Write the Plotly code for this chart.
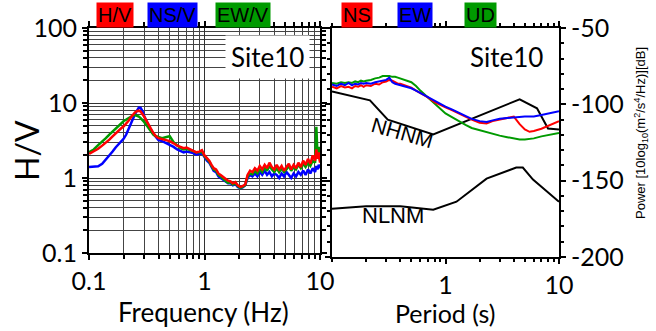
import plotly.graph_objects as go

# ---------------- H/V spectral ratios (left panel) ----------------
freq = [0.10, 0.11, 0.12, 0.13, 0.14, 0.15, 0.16, 0.17, 0.18, 0.19,
        0.20, 0.21, 0.22, 0.23, 0.24, 0.25, 0.26, 0.27, 0.28, 0.29,
        0.30, 0.32, 0.34, 0.36, 0.38, 0.40, 0.43, 0.46, 0.50, 0.54,
        0.58, 0.62, 0.66, 0.70, 0.75, 0.80, 0.85, 0.90, 0.95, 1.00,
        1.05, 1.10, 1.15, 1.20, 1.26, 1.32, 1.38, 1.45, 1.52, 1.60,
        1.68, 1.76, 1.85, 1.94, 2.04, 2.14, 2.25, 2.36, 2.48, 2.60,
        2.73, 2.87, 3.01, 3.16, 3.32, 3.48, 3.65, 3.83, 4.02, 4.22,
        4.43, 4.65, 4.88, 5.12, 5.37, 5.63, 5.91, 6.20, 6.50, 6.82,
        7.15, 7.50, 7.87, 8.25, 8.65, 9.07, 9.30, 9.51, 9.75, 10.0]

hv = [2.1, 2.25, 2.45, 2.7, 2.95, 3.25, 3.6, 3.95, 4.3, 4.6,
      4.9, 5.3, 5.8, 6.4, 7.0, 7.5, 7.8, 7.9, 7.7, 7.2,
      6.6, 5.5, 4.6, 4.0, 3.6, 3.4, 3.3, 3.2, 3.1, 2.9,
      2.7, 2.6, 2.5, 2.55, 2.4, 2.3, 2.2, 2.25, 2.35, 2.0,
      1.85, 1.7, 1.5, 1.35, 1.3, 1.15, 1.1, 1.02, 0.98, 0.92,
      0.9, 0.85, 0.88, 0.8, 0.76, 0.78, 0.82, 1.1, 1.25, 1.2,
      1.35, 1.25, 1.45, 1.3, 1.5, 1.35, 1.6, 1.4, 1.3, 1.5,
      1.3, 1.45, 1.25, 1.4, 1.55, 1.3, 1.5, 1.35, 1.6, 1.4,
      1.7, 1.5, 1.8, 1.55, 2.0, 1.7, 2.4, 1.8, 2.2, 1.6]

ns_v = [1.4, 1.4, 1.43, 1.55, 1.75, 2.0, 2.25, 2.55, 2.8, 3.05,
        3.35, 3.8, 4.4, 5.2, 6.1, 7.1, 8.0, 8.7, 8.6, 7.8,
        6.7, 5.3, 4.5, 3.9, 3.5, 3.2, 3.1, 2.95, 2.8, 2.6,
        2.4, 2.3, 2.2, 2.25, 2.2, 2.15, 2.05, 2.1, 2.15, 1.9,
        1.7, 1.6, 1.4, 1.25, 1.2, 1.05, 1.0, 0.95, 0.9, 0.85,
        0.86, 0.8, 0.83, 0.76, 0.73, 0.75, 0.8, 1.0, 1.1, 1.05,
        1.15, 1.05, 1.2, 1.1, 1.25, 1.1, 1.2, 1.05, 1.15, 1.1,
        1.0, 1.15, 1.05, 1.2, 1.1, 1.0, 1.15, 1.05, 1.2, 1.1,
        1.25, 1.1, 1.3, 1.15, 1.35, 1.2, 1.45, 1.3, 1.5, 1.35]

ew_v = [2.2, 2.4, 2.75, 3.05, 3.4, 3.8, 4.2, 4.6, 5.0, 5.4,
        5.75, 6.0, 6.3, 6.6, 6.8, 6.9, 6.8, 6.6, 6.3, 6.0,
        5.6, 4.9, 4.3, 3.8, 3.6, 3.5, 3.4, 3.5, 3.6, 3.0,
        2.7, 2.5, 2.4, 2.45, 2.35, 2.25, 2.2, 2.2, 2.25, 1.95,
        1.8, 1.65, 1.45, 1.3, 1.25, 1.1, 1.05, 0.97, 0.92, 0.86,
        0.88, 0.82, 0.85, 0.78, 0.74, 0.76, 0.8, 1.05, 1.15, 1.12,
        1.25, 1.15, 1.3, 1.2, 1.4, 1.25, 1.45, 1.3, 1.2, 1.35,
        1.2, 1.35, 1.2, 1.3, 1.45, 1.25, 1.4, 1.3, 1.5, 1.35,
        1.55, 1.4, 1.6, 1.45, 1.7, 1.6, 4.8, 2.0, 2.6, 1.7]

# ---------------- Power spectra (right panel) ----------------
period = [0.10, 0.11, 0.12, 0.13, 0.14, 0.15, 0.16, 0.17, 0.18, 0.19,
          0.20, 0.22, 0.24, 0.26, 0.28, 0.30, 0.32, 0.34, 0.36, 0.38,
          0.40, 0.45, 0.50, 0.55, 0.60, 0.70, 0.80, 0.90, 1.00, 1.15,
          1.30, 1.50, 1.70, 2.00, 2.30, 2.60, 3.00, 3.50, 4.00, 4.50,
          5.00, 5.50, 6.00, 7.00, 8.00, 9.00, 10.0]

psd_ns = [-88.5, -89.5, -88.0, -89.0, -88.5, -89.5, -88.0, -88.5, -87.5, -88.5,
          -87.5, -88.0, -86.5, -87.0, -85.5, -85.0, -84.0, -84.5, -85.5, -86.5,
          -86.5, -88.0, -89.0, -91.0, -92.5, -95.5, -98.5, -100.5, -102.0, -104.0,
          -106.0, -108.0, -110.0, -112.0, -112.5, -111.0, -110.0, -108.5, -108.0, -113.0,
          -116.5, -118.0, -117.5, -116.0, -114.0, -112.5, -111.0]

psd_ew = [-87.0, -88.0, -86.5, -87.5, -86.0, -87.5, -86.5, -87.0, -86.0, -86.5,
          -86.0, -86.5, -85.5, -85.0, -84.5, -84.0, -82.5, -85.5, -86.5, -87.0,
          -87.5, -88.5, -89.5, -91.0, -92.5, -95.5, -98.0, -100.0, -101.5, -103.5,
          -105.5, -107.5, -109.5, -111.0, -111.5, -110.5, -109.5, -109.0, -108.5, -108.5,
          -108.0, -108.0, -108.0, -107.0, -106.0, -105.5, -104.5]

psd_ud = [-86.0, -86.5, -85.5, -86.0, -85.5, -86.0, -85.0, -85.5, -84.5, -85.0,
          -84.5, -84.0, -83.0, -82.5, -81.5, -81.5, -81.5, -82.0, -82.0, -82.5,
          -83.0, -84.0, -85.5, -88.0, -91.0, -95.5, -99.5, -103.0, -106.0, -108.5,
          -111.0, -113.5, -115.5, -117.0, -118.3, -119.5, -120.5, -121.5, -122.5, -123.0,
          -123.0, -122.8, -122.3, -121.0, -120.0, -119.5, -118.8]

nhnm_period = [0.1, 0.216, 0.31, 0.78, 4.5, 6.4, 8.0, 10.0]
nhnm_db = [-91.5, -97.4, -110.0, -119.7, -96.7, -102.6, -115.8, -116.5]
nlnm_period = [0.1, 0.2, 0.4, 0.78, 1.25, 2.3, 4.2, 4.8, 5.9, 10.0]
nlnm_db = [-168.4, -166.8, -166.8, -169.0, -163.8, -148.7, -141.4, -141.4, -149.3, -163.8]

hv_ticks = [0.1, 1, 10, 100]
hv_ticktext = ["0.1", "1", "10", "100"]
f_ticks = [0.1, 1, 10]
f_ticktext = ["0.1", "1", "10"]
p_ticks = [1, 10]
p_ticktext = ["1", "10"]
db_ticks = [-50, -100, -150, -200]
db_ticktext = ["-50", "-100", "-150", "-200"]

RED, BLUE, GREEN = "#ff0000", "#0000ff", "#009a00"

W, H = 656, 331
fig = go.Figure()

fig.add_trace(go.Scatter(x=freq, y=ns_v, mode="lines", line=dict(color=BLUE, width=2.5),
                         xaxis="x", yaxis="y", showlegend=False))
fig.add_trace(go.Scatter(x=freq, y=ew_v, mode="lines", line=dict(color=GREEN, width=2.5),
                         xaxis="x", yaxis="y", showlegend=False))
fig.add_trace(go.Scatter(x=freq, y=hv, mode="lines", line=dict(color=RED, width=2.5),
                         xaxis="x", yaxis="y", showlegend=False))

fig.add_trace(go.Scatter(x=nhnm_period, y=nhnm_db, mode="lines", line=dict(color="black", width=2),
                         xaxis="x2", yaxis="y2", showlegend=False))
fig.add_trace(go.Scatter(x=nlnm_period, y=nlnm_db, mode="lines", line=dict(color="black", width=2),
                         xaxis="x2", yaxis="y2", showlegend=False))
fig.add_trace(go.Scatter(x=period, y=psd_ud, mode="lines", line=dict(color=GREEN, width=2),
                         xaxis="x2", yaxis="y2", showlegend=False))
fig.add_trace(go.Scatter(x=period, y=psd_ns, mode="lines", line=dict(color=RED, width=2),
                         xaxis="x2", yaxis="y2", showlegend=False))
fig.add_trace(go.Scatter(x=period, y=psd_ew, mode="lines", line=dict(color=BLUE, width=2),
                         xaxis="x2", yaxis="y2", showlegend=False))

TICKFONT = dict(family="Lato", size=25, color="black")
axis_common = dict(showline=True, linecolor="black", linewidth=2, mirror="ticks",
                   ticks="outside", ticklen=5, tickwidth=1.5, tickcolor="black",
                   zeroline=False, tickfont=TICKFONT, automargin=False)

fig.update_layout(
    width=W, height=H,
    margin=dict(l=0, r=0, t=0, b=0, autoexpand=False),
    paper_bgcolor="white", plot_bgcolor="white",
    xaxis=dict(type="log", range=[-1, 1], domain=[89 / W, 320 / W], anchor="y",
               tickvals=f_ticks, ticktext=f_ticktext,
               showgrid=True, gridcolor="#333333", gridwidth=1,
               minor=dict(dtick="D1", ticks="outside", ticklen=4, tickcolor="black",
                          showgrid=True, gridcolor="#444444", gridwidth=0.8),
               **axis_common),
    yaxis=dict(type="log", range=[-1, 2], domain=[1 - 253 / H, 1 - 28 / H], anchor="x",
               tickvals=hv_ticks, ticktext=hv_ticktext,
               showgrid=True, gridcolor="#333333", gridwidth=1,
               minor=dict(dtick="D1", ticks="outside", ticklen=4, tickcolor="black",
                          showgrid=True, gridcolor="#444444", gridwidth=0.8),
               **axis_common),
    xaxis2=dict(type="log", range=[-1, 1], domain=[332 / W, 559 / W], anchor="y2",
                tickvals=p_ticks, ticktext=p_ticktext, showgrid=False,
                minor=dict(dtick="D1", ticks="outside", ticklen=3, tickcolor="black"),
                **axis_common),
    yaxis2=dict(range=[-200, -50], domain=[1 - 257 / H, 1 - 28 / H], anchor="x2", side="right",
                tickvals=db_ticks, ticktext=db_ticktext, showgrid=False,
                minor=dict(dtick=10, ticks="outside", ticklen=3, tickcolor="black"),
                **axis_common),
)

def px(x):
    return x / W

def py(y):
    return 1 - y / H

def note(text, x, y, size, family="Lato", angle=0, bg=None, pad=1):
    d = dict(text=text, x=px(x), y=py(y), xref="paper", yref="paper",
             xanchor="center", yanchor="middle", showarrow=False, textangle=angle,
             borderpad=pad, font=dict(family=family, size=size, color="black"))
    if bg:
        d["bgcolor"] = bg
    return d

ann = []
# legend boxes
for txt, cx, col in [("H/V", 115, RED), ("NS/V", 172, BLUE), ("EW/V", 243, GREEN),
                     ("NS", 357, RED), ("EW", 415, BLUE), ("UD", 480, GREEN)]:
    ann.append(note(txt, cx, 15, 20, family="Liberation Sans", bg=col, pad=1))
# Site labels
for cx in (267, 506):
    ann.append(note("Site10", cx, 57, 26, bg="white", pad=5))
# curve labels
ann.append(note("NHNM", 402, 132, 21, family="Liberation Sans", angle=16))
ann.append(note("NLNM", 393, 215, 22, family="Liberation Sans"))
# axis titles
ann.append(note("H/V", 26, 151, 32, angle=-90))
ann.append(note("Frequency (Hz)", 203, 312, 26))
ann.append(note("Period (s)", 445, 313, 25))
ann.append(note("Power [10log<sub>10</sub>(m<sup>2</sup>/s<sup>4</sup>/Hz)][dB]", 641, 133, 13,
                family="Liberation Sans", angle=-90))
fig.update_layout(annotations=ann)

fig.write_html("out.html", config={"displayModeBar": False},
               post_script="document.body.style.margin='0px';")
